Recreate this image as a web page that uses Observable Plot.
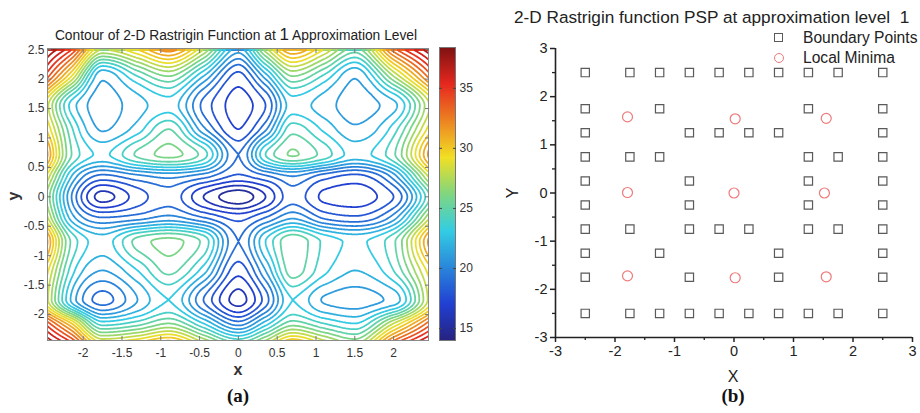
<!DOCTYPE html>
<html><head><meta charset="utf-8">
<script src="https://cdn.jsdelivr.net/npm/d3@7"></script>
<script src="https://cdn.jsdelivr.net/npm/@observablehq/plot@0.6"></script>
<style>
body{margin:0;background:#fff;}
#wrap{position:relative;width:920px;height:413px;overflow:hidden;font-family:"Liberation Sans",Arial,sans-serif;color:#222;}
.abs{position:absolute;white-space:nowrap;line-height:1;}
</style></head><body><div id="wrap"></div>
<script>
// ---- Panel (a): estimated surface values ----
const xNodes = [-2.5, -2.15, -1.75, -1.3, -0.9, -0.45, 0, 0.35, 0.7, 1.1, 1.5, 2.0, 2.5];
const yNodes = [2.5, 2.05, 1.55, 1.15, 0.72, 0.35, 0, -0.35, -0.76, -1.25, -1.75, -2.15, -2.5];
const zRows = [
  [38.4, 35.0, 28.0, 30.0, 32.5, 28.0, 21.5, 27.5, 32.0, 29.0, 25.5, 33.5, 38.0],
  [35.0, 29.0, 21.2, 24.0, 26.0, 22.0, 17.6, 21.5, 26.0, 23.8, 21.1, 27.0, 34.0],
  [29.0, 22.6, 20.5, 21.6, 22.6, 18.7, 16.6, 18.0, 22.5, 21.5, 20.5, 21.7, 28.5],
  [30.5, 24.2, 20.9, 22.5, 25.0, 20.3, 17.0, 19.8, 24.6, 22.8, 21.2, 23.5, 30.0],
  [33.0, 25.0, 22.8, 25.2, 26.3, 24.5, 19.0, 24.0, 26.1, 24.6, 22.6, 24.8, 33.0],
  [29.5, 22.0, 18.7, 19.7, 20.3, 19.4, 17.8, 18.8, 20.0, 18.5, 17.7, 20.5, 29.0],
  [27.5, 20.0, 15.6, 17.5, 18.6, 16.0, 14.3, 16.0, 18.6, 16.8, 16.5, 18.0, 25.5],
  [29.0, 21.5, 19.0, 19.5, 20.3, 19.0, 17.6, 19.0, 20.8, 18.8, 18.2, 20.5, 28.5],
  [33.0, 24.8, 22.5, 25.4, 26.3, 24.7, 19.0, 23.0, 25.8, 23.8, 22.8, 24.8, 33.0],
  [30.0, 23.5, 21.0, 23.0, 25.3, 22.5, 17.4, 21.0, 25.5, 23.3, 22.0, 24.0, 30.0],
  [29.0, 21.8, 18.6, 21.0, 23.0, 19.0, 15.6, 18.5, 23.0, 20.9, 20.5, 21.4, 29.0],
  [35.0, 30.0, 23.5, 24.5, 26.0, 23.0, 19.5, 22.5, 25.5, 24.0, 23.0, 28.0, 34.0],
  [38.4, 35.5, 29.5, 30.5, 32.0, 28.5, 25.5, 28.0, 31.5, 29.0, 27.0, 34.0, 38.0]
];
const contourLevels = [15,16,17,18,19,20,21,22,23,24,25,26,27,28,29,30,31,32,33,34,35,36,37,38];
const leftXTicks = [-2, -1.5, -1, -0.5, 0, 0.5, 1, 1.5, 2];
const leftYTicks = [-2, -1.5, -1, -0.5, 0, 0.5, 1, 1.5, 2, 2.5];
const colorbarTicks = [15, 20, 25, 30, 35];
const colorDomain = [14, 17.05, 23.15, 26.2, 29.25, 35.35, 38.4];
const colorRange = ["#26237f", "#2140d2", "#33cde3", "#80d680", "#f2df24", "#e6281f", "#7f1212"];

// ---- Panel (b): points ----
const boundaryRowY = [2.5, 1.75, 1.25, 0.75, 0.25, -0.25, -0.75, -1.25, -1.75, -2.5];
const boundaryRowX = [
  [-2.5, -1.75, -1.25, -0.75, -0.25, 0.25, 0.75, 1.25, 1.75, 2.5],
  [-2.5, -1.25, 1.25, 2.5],
  [-2.5, -0.75, -0.25, 0.25, 0.75, 2.5],
  [-2.5, -1.75, -1.25, 1.25, 1.75, 2.5],
  [-2.5, -0.75, 1.25, 2.5],
  [-2.5, -0.75, 1.25, 2.5],
  [-2.5, -1.75, -0.75, -0.25, 0.25, 1.25, 1.75, 2.5],
  [-2.5, -1.25, 0.75, 2.5],
  [-2.5, -0.75, 0.75, 2.5],
  [-2.5, -1.75, -1.25, -0.75, -0.25, 0.25, 0.75, 1.25, 1.75, 2.5]
];
const minimaX = [-1.79, 0.02, 1.55, -1.79, 0.0, 1.52, -1.79, 0.02, 1.55];
const minimaY = [1.58, 1.54, 1.55, 0.01, 0.0, 0.0, -1.72, -1.76, -1.74];
const rightTicks = [-3, -2, -1, 0, 1, 2, 3];
const rightMinorTicks = [-2.5, -1.5, -0.5, 0.5, 1.5, 2.5];

// monotone (Steffen) cubic through the read node values, for smooth contour sampling
function slopes(xs, ys) {
  const n = xs.length, m = new Array(n), h = [], d = [];
  for (let k = 0; k < n - 1; k++) { h[k] = xs[k+1] - xs[k]; d[k] = (ys[k+1] - ys[k]) / h[k]; }
  m[0] = d[0]; m[n-1] = d[n-2];
  for (let k = 1; k < n - 1; k++) {
    const p = (d[k-1] * h[k] + d[k] * h[k-1]) / (h[k-1] + h[k]);
    m[k] = (Math.sign(d[k-1]) + Math.sign(d[k])) * Math.min(Math.abs(d[k-1]), Math.abs(d[k]), 0.5 * Math.abs(p));
  }
  return m;
}
function hermite(xs, ys, m, x) {
  const n = xs.length; let i = 0;
  if (x >= xs[n-1]) i = n - 2; else if (x > xs[0]) { while (x > xs[i+1]) i++; }
  const h = xs[i+1] - xs[i], t = (x - xs[i]) / h, t2 = t*t, t3 = t2*t;
  return (2*t3 - 3*t2 + 1) * ys[i] + (t3 - 2*t2 + t) * h * m[i] + (-2*t3 + 3*t2) * ys[i+1] + (t3 - t2) * h * m[i+1];
}
const yAsc = yNodes.slice().reverse();
const rowsAsc = zRows.slice().reverse();
const rowSlopes = rowsAsc.map(r => slopes(xNodes, r));
function field(x, y) {
  const col = rowsAsc.map((r, j) => hermite(xNodes, r, rowSlopes[j], x));
  return hermite(yAsc, col, slopes(yAsc, col), y);
}

const fmt = d => String(d);
const colorScale = {type: "linear", domain: colorDomain, range: colorRange, clamp: true};
const wrap = document.getElementById("wrap");
function place(el, left, top) { el.style.position = "absolute"; el.style.left = left + "px"; el.style.top = top + "px"; wrap.appendChild(el); }

// Left contour plot
const left = Plot.plot({
  width: 438, height: 413, marginLeft: 47, marginRight: 10, marginTop: 48, marginBottom: 73,
  x: {domain: [-2.46, 2.45]}, y: {domain: [-2.44, 2.52]},
  color: colorScale,
  style: {fontFamily: "Liberation Sans, Arial, sans-serif", fontSize: "11.5px", color: "#333", background: "transparent"},
  marks: [
    Plot.contour({value: field, x1: -2.5, x2: 2.5, y1: -2.5, y2: 2.5, thresholds: contourLevels,
      stroke: "value", fill: "none", strokeWidth: 1.8, pixelSize: 1, clip: true}),
    Plot.frame({stroke: "#8a8a8a"}),
    Plot.axisX(leftXTicks, {anchor: "bottom", tickSize: 0, tickPadding: 8, tickFormat: fmt, label: null, fontSize: 12}),
    Plot.axisY(leftYTicks, {anchor: "left", tickSize: 0, tickPadding: 3, tickFormat: fmt, label: null, fontSize: 12}),
    Plot.axisX(leftXTicks, {anchor: "bottom", tickSize: -4, tickFormat: () => "", label: null, stroke: "#777"}),
    Plot.axisX(leftXTicks, {anchor: "top", tickSize: -4, tickFormat: () => "", label: null, stroke: "#777"}),
    Plot.axisY(leftYTicks, {anchor: "left", tickSize: -4, tickFormat: () => "", label: null, stroke: "#777"}),
    Plot.axisY(leftYTicks, {anchor: "right", tickSize: -4, tickFormat: () => "", label: null, stroke: "#777"})
  ]
});
place(left, 0, 0);

// Colorbar
const bar = Plot.plot({
  width: 60, height: 413, marginLeft: 9, marginRight: 35, marginTop: 47, marginBottom: 73,
  x: {domain: [0, 1], axis: null}, y: {domain: [14, 38.4]},
  color: colorScale,
  style: {fontFamily: "Liberation Sans, Arial, sans-serif", fontSize: "11.5px", color: "#333", background: "transparent"},
  marks: [
    Plot.raster({fill: (x, y) => y, x1: 0, x2: 1, y1: 14, y2: 38.4, pixelSize: 1}),
    Plot.frame({stroke: "#777"}),
    Plot.axisY(colorbarTicks, {anchor: "right", tickSize: 0, tickPadding: 4, tickFormat: fmt, label: null, fontSize: 12}),
    Plot.axisY(colorbarTicks, {anchor: "right", tickSize: -3, tickFormat: () => "", label: null, stroke: "#444"}),
    Plot.axisY(colorbarTicks, {anchor: "left", tickSize: -3, tickFormat: () => "", label: null, stroke: "#444"})
  ]
});
place(bar, 430, 0);

// Right scatter plot
const boundary = boundaryRowY.flatMap((y, i) => boundaryRowX[i].map(x => ({x, y})));
const minima = minimaX.map((x, i) => ({x, y: minimaY[i]}));
const right = Plot.plot({
  width: 450, height: 413, marginLeft: 85, marginRight: 8, marginTop: 48, marginBottom: 76,
  x: {domain: [-3, 3]}, y: {domain: [-3, 3]},
  style: {fontFamily: "Liberation Sans, Arial, sans-serif", fontSize: "14.5px", color: "#222", background: "transparent", overflow: "visible"},
  marks: [
    Plot.ruleX([-3], {stroke: "#222", strokeWidth: 1.6}),
    Plot.ruleY([-3], {stroke: "#222", strokeWidth: 1.6}),
    Plot.axisX(rightTicks, {anchor: "bottom", tickSize: 5, tickPadding: 3, tickFormat: fmt, label: null, fontSize: 14.5, strokeWidth: 1.5}),
    Plot.axisX(rightMinorTicks, {anchor: "bottom", tickSize: 3, tickFormat: () => "", label: null, strokeWidth: 1.3}),
    Plot.axisY(rightTicks, {anchor: "left", tickSize: 5, tickPadding: 3, tickFormat: fmt, label: null, fontSize: 14.5, strokeWidth: 1.5}),
    Plot.axisY(rightMinorTicks, {anchor: "left", tickSize: 3, tickFormat: () => "", label: null, strokeWidth: 1.3}),
    Plot.dot(boundary, {x: "x", y: "y", symbol: "square", r: 4.7, stroke: "#5a5a5a", strokeWidth: 1.2, fill: "none"}),
    Plot.dot(minima, {x: "x", y: "y", r: 5, stroke: "#ef7a7a", strokeWidth: 1.2, fill: "none"})
  ]
});
place(right, 470, 0);

// Texts
function text(html, left, top, style) {
  const d = document.createElement("div"); d.className = "abs"; d.innerHTML = html;
  Object.assign(d.style, {left: left + "px", top: top + "px"}, style || {});
  wrap.appendChild(d); return d;
}
text('Contour of 2-D Rastrigin Function at <span style="font-size:17px">1</span> Approximation Level', 236, 26,
  {transform: "translateX(-50%)", fontSize: "13.8px", color: "#222"});
text("x", 238, 362, {transform: "translateX(-50%)", fontSize: "16px", fontWeight: "bold", color: "#333"});
text("y", 14, 196, {transform: "translate(-50%,-50%) rotate(-90deg)", fontSize: "16px", fontWeight: "bold", color: "#333"});
text("(a)", 238, 386, {transform: "translateX(-50%)", fontSize: "19px", fontWeight: "bold", fontFamily: "Liberation Serif, Times New Roman, serif", color: "#111"});
text("2-D Rastrigin function PSP at approximation level&nbsp; 1", 514, 9, {fontSize: "17.2px", color: "#222"});
text("Y", 513, 193, {transform: "translate(-50%,-50%) rotate(-90deg)", fontSize: "16px", color: "#222"});
text("X", 733, 369, {transform: "translateX(-50%)", fontSize: "16px", color: "#222"});
text("(b)", 733, 386, {transform: "translateX(-50%)", fontSize: "19px", fontWeight: "bold", fontFamily: "Liberation Serif, Times New Roman, serif", color: "#111"});
// Legend
text("", 774, 33, {width: "9px", height: "9px", border: "1.3px solid #5a5a5a", boxSizing: "border-box"});
text("", 774, 53, {width: "10px", height: "10px", border: "1.2px solid #ef7a7a", borderRadius: "50%", boxSizing: "border-box"});
text("Boundary Points", 803, 30, {fontSize: "15.6px", color: "#222"});
text("Local Minima", 803, 50, {fontSize: "15.6px", color: "#222"});
</script></body></html>
